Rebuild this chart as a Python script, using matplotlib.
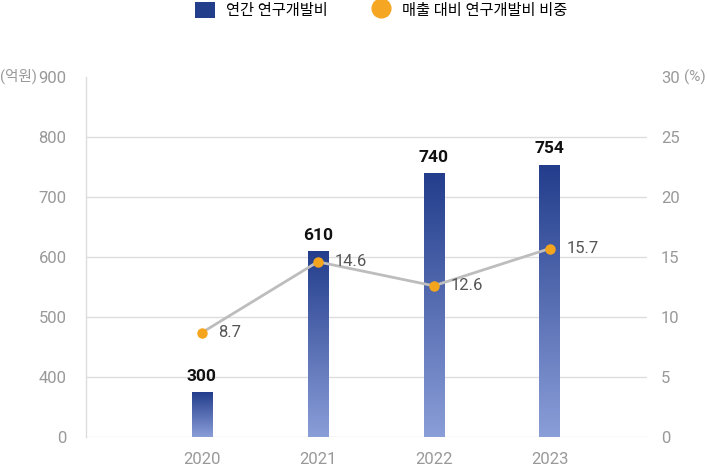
import numpy as np
import matplotlib
matplotlib.use("Agg")
import matplotlib.pyplot as plt
from matplotlib.patches import Patch
from matplotlib.lines import Line2D
from matplotlib.colors import LinearSegmentedColormap

plt.rcParams['font.family'] = ['Roboto', 'Noto Sans CJK KR', 'DejaVu Sans']

years = ['2020', '2021', '2022', '2023']
rd_cost = [300, 610, 740, 754]          # 억원
rd_ratio = [8.7, 14.6, 12.6, 15.7]      # %
left_ticks = [0, 400, 500, 600, 700, 800, 900]
right_ticks = [0, 5, 10, 15, 20, 25, 30]
legend_labels = ['연간 연구개발비', '매출 대비 연구개발비 비중']

W, H = 707, 467
fig = plt.figure(figsize=(W / 100, H / 100), dpi=100)
ax = fig.add_axes([86 / W, 30 / H, (647 - 86) / W, (437 - 77) / H])

# broken-style left axis: 0..400 compressed into one tick interval
def fwd(v):
    v = np.asarray(v, dtype=float)
    return np.where(v < 400, v / 4.0, v - 300)

def inv(u):
    u = np.asarray(u, dtype=float)
    return np.where(u < 100, u * 4.0, u + 300)

ax.set_yscale('function', functions=(fwd, inv))
ax.set_ylim(0, 900)
x = np.arange(len(years))
ax.set_xlim(-1.0, 3.84)

grid_c = '#DDDDDD'
tick_c = '#999999'
for t in left_ticks[:-1]:
    ax.axhline(t, color=grid_c, lw=1, zorder=0)

bw = 0.175
bars = ax.bar(x, rd_cost, width=bw, color='none', edgecolor='none', zorder=2)

cmap = LinearSegmentedColormap.from_list('g', ['#8A9ED8', '#233D8C'])
grad = np.linspace(0, 1, 256).reshape(-1, 1)
to_axes = ax.transData + ax.transAxes.inverted()
for xi, h, p in zip(x, rd_cost, bars):
    (x0, y0) = to_axes.transform((xi - bw / 2, 0))
    (x1, y1) = to_axes.transform((xi + bw / 2, h))
    im = ax.imshow(grad, cmap=cmap, aspect='auto', origin='lower',
                   extent=[x0, x1, y0, y1], transform=ax.transAxes, zorder=2)
    im.set_clip_path(p)
    ax.annotate(str(h), (xi, h), xytext=(0, 6), textcoords='offset points',
                ha='center', va='bottom', fontsize=12.5, fontweight='bold',
                color='#111111', zorder=5)

ax.set_yticks(left_ticks)
ax.set_yticklabels([str(t) for t in left_ticks])
ax.tick_params(axis='y', length=0, pad=14, labelsize=12, labelcolor=tick_c)
ax.set_xticks(x)
ax.set_xticklabels(years)
ax.tick_params(axis='x', length=0, pad=11, labelsize=12, labelcolor=tick_c)
for s in ['top', 'right', 'bottom']:
    ax.spines[s].set_visible(False)
ax.spines['left'].set_color(grid_c)
ax.spines['left'].set_linewidth(1)

ax2 = ax.twinx()
ax2.set_ylim(0, 30)
ax2.set_yticks(right_ticks)
ax2.tick_params(axis='y', length=0, pad=10, labelsize=12, labelcolor=tick_c)
for s in ['top', 'right', 'bottom', 'left']:
    ax2.spines[s].set_visible(False)
ax2.plot(x, rd_ratio, color='#BDBDBD', lw=2, zorder=3)
ax2.plot(x, rd_ratio, 'o', color='#F5A51D', markersize=6.5, zorder=4)
for xi, v in zip(x, rd_ratio):
    ax2.annotate(f'{v}', (xi, v), xytext=(12, 0), textcoords='offset points',
                 ha='left', va='center', fontsize=12, color='#555555')

fig.text(0, 1 - 76 / H, '(억원)', ha='left', va='center', fontsize=10.5, color=tick_c)
fig.text(684 / W, 1 - 77 / H, '(%)', ha='left', va='center', fontsize=11, color=tick_c)

handles = [Patch(facecolor='#233E8B', edgecolor='none'),
           Line2D([], [], marker='o', color='#F5A623', linestyle='none', markersize=13.5)]
fig.legend(handles, legend_labels, loc='center', bbox_to_anchor=(381 / W, 1 - 10 / H),
           ncol=2, frameon=False, fontsize=11, handlelength=1.3, handleheight=1.3,
           handletextpad=0.72, columnspacing=2.87, borderpad=0, borderaxespad=0)

fig.savefig('out.png', dpi=100)
